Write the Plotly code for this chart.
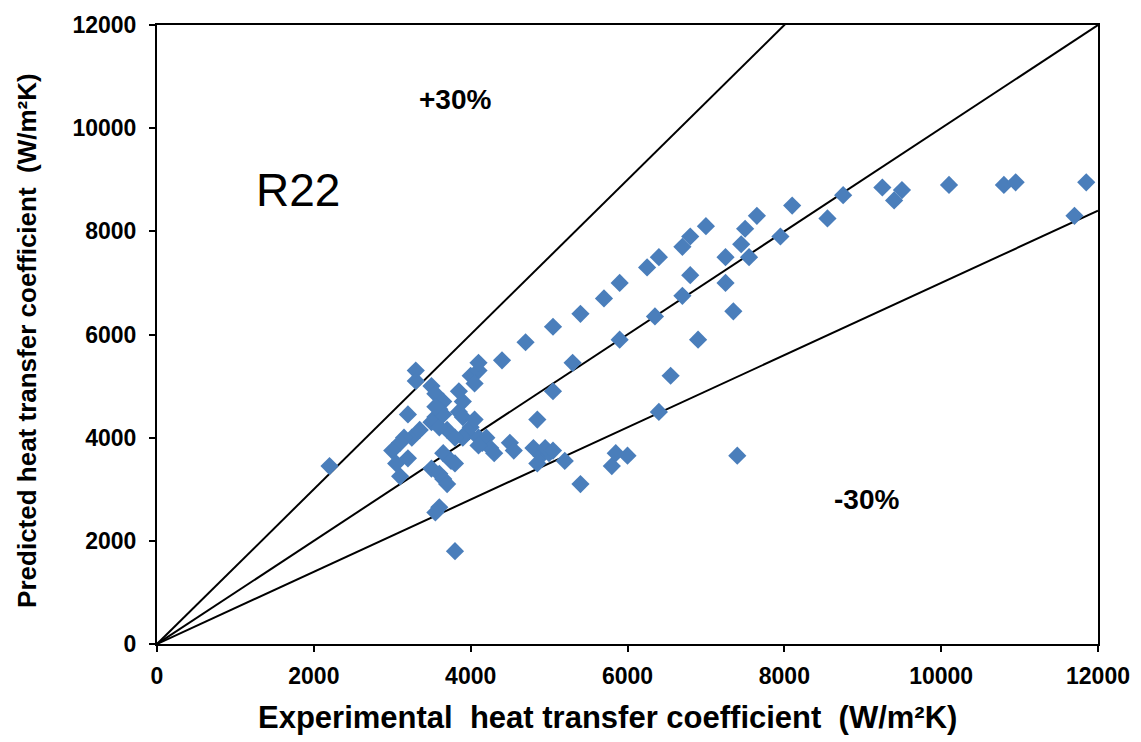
import plotly.graph_objects as go

exp_htc = [2200, 3800, 7400, 5400, 6000, 5800, 5850, 5200, 6400, 6550, 7350, 6900, 5900, 5300,
           5050, 4850, 4700, 4400, 5050, 5400, 5700, 5900, 6250, 6400, 6700, 6800, 7000, 6800,
           6700, 7250, 7250, 7450, 7500, 7550, 7650, 7950, 8100, 8550, 8750, 9250, 9400, 9500,
           10100, 10800, 10950, 11700, 11850, 6350,
           3300, 3300, 3500, 3550, 3650, 3600, 3550, 3500, 3700, 3600, 3650, 3550,
           3200, 3250, 3150, 3100, 3000, 3050, 3200, 3100, 3350,
           3500, 3600, 3650, 3700, 3650, 3750, 3800, 3600, 3550,
           3850, 3900, 3850, 4000, 4100, 4100, 4050,
           3900, 3950, 4000, 3900, 4050, 4100, 4150, 4200, 4250, 4300, 4100,
           4500, 4550, 4800, 4900, 4850, 5000, 4950, 5050, 3800]
pred_htc = [3450, 1800, 3650, 3100, 3650, 3450, 3700, 3550, 4500, 5200, 6450, 5900, 5900, 5450,
            4900, 4350, 5850, 5500, 6150, 6400, 6700, 7000, 7300, 7500, 7700, 7900, 8100, 7150,
            6750, 7000, 7500, 7750, 8050, 7500, 8300, 7900, 8500, 8250, 8700, 8850, 8600, 8800,
            8900, 8900, 8950, 8300, 8950, 6350,
            5300, 5100, 5000, 4850, 4700, 4550, 4400, 4300, 4150, 4200, 4450, 4600,
            4450, 4000, 4000, 3900, 3750, 3500, 3600, 3250, 4150,
            3400, 3300, 3200, 3100, 3700, 3550, 3500, 2650, 2550,
            4500, 4700, 4900, 5200, 5300, 5450, 5050,
            4400, 4100, 4200, 4000, 4350, 4000, 3900, 4000, 3800, 3700, 3850,
            3900, 3750, 3800, 3650, 3500, 3700, 3800, 3750, 4000]

line_x = [0, 12000]
slopes = [1.5, 1.0, 0.7]

labels = ["+30%", "R22", "-30%"]
label_x = [3800, 1800, 9050]
label_y = [10550, 8800, 2800]

x_title = "Experimental&nbsp; heat transfer coefficient&nbsp; (W/m²K)"
y_title = "Predicted heat transfer coefficient&nbsp; (W/m²K)"

FONT = "Liberation Sans"

fig = go.Figure()
for s in slopes:
    fig.add_trace(go.Scatter(x=line_x, y=[v * s for v in line_x], mode="lines",
                             line=dict(color="black", width=2), showlegend=False,
                             hoverinfo="skip"))
fig.add_trace(go.Scatter(x=exp_htc, y=pred_htc, mode="markers",
                         marker=dict(symbol="diamond", size=14, color="#4A7EBB"),
                         showlegend=False))

label_sizes = [28, 46, 28]
label_bold = [True, False, True]
for t, x, y, s, b in zip(labels, label_x, label_y, label_sizes, label_bold):
    fig.add_annotation(x=x, y=y, text=f"<b>{t}</b>" if b else t, showarrow=False,
                       font=dict(size=s, color="black", family=FONT))

# axis titles as annotations for precise placement
fig.add_annotation(xref="paper", yref="paper", x=0.479, y=-0.119, yanchor="middle",
                   text=f"<b>{x_title}</b>", showarrow=False,
                   font=dict(size=31, color="black", family=FONT))
fig.add_annotation(xref="paper", yref="paper", x=-0.139, y=0.49, xanchor="center",
                   textangle=-90, text=f"<b>{y_title}</b>", showarrow=False,
                   font=dict(size=26, color="black", family=FONT))

axis_common = dict(range=[0, 12000], dtick=2000, tickformat="d", showgrid=False, zeroline=False,
                   showline=True, linecolor="black", linewidth=2, mirror=True,
                   ticks="outside", ticklen=6, tickwidth=2, tickcolor="black", automargin=False,
                   tickfont=dict(size=23, color="black", family=FONT, weight="bold"))
fig.update_xaxes(**axis_common, ticklabelstandoff=4)
fig.update_yaxes(**axis_common, ticklabelstandoff=8)
fig.update_layout(width=1133, height=734, margin=dict(l=149, r=43, t=17, b=98),
                  plot_bgcolor="white", paper_bgcolor="white",
                  font=dict(family=FONT))
fig.write_html("out.html")
